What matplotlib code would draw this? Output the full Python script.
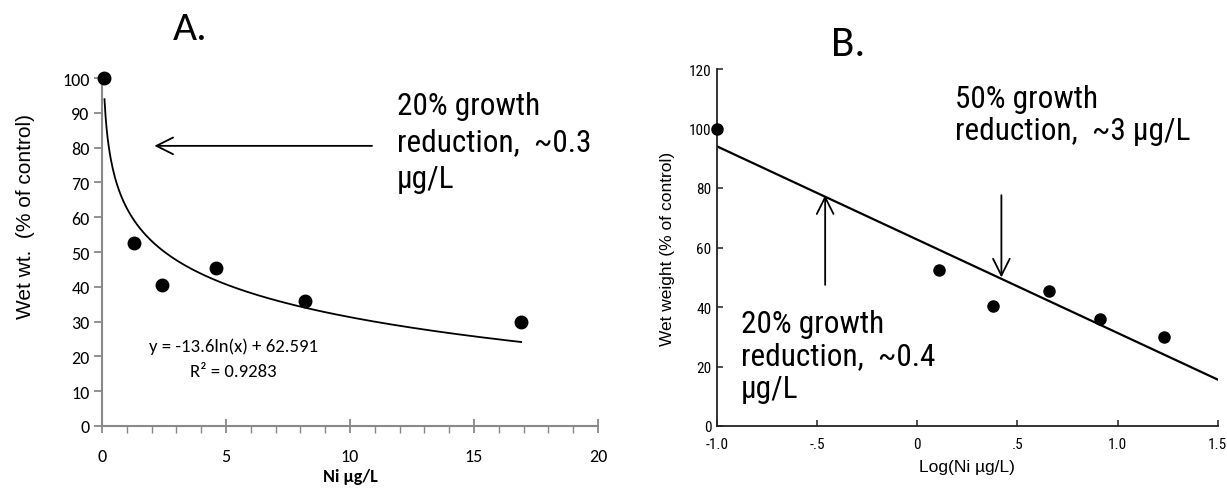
import numpy as np
import matplotlib
matplotlib.use("Agg")
import matplotlib.pyplot as plt
from matplotlib.ticker import MultipleLocator

NARROW = ["Roboto Condensed", "Archivo Narrow", "Liberation Sans"]
CAL = ["Carlito", "Lato", "DejaVu Sans"]
ARIAL = ["Liberation Sans", "DejaVu Sans"]

# ---- data ----
ni_conc = [0.1, 1.3, 2.4, 4.6, 8.2, 16.9]          # Ni ug/L
wet_wt = [100, 52.5, 40.5, 45.3, 35.8, 29.8]       # % of control
log_ni = [-1.0, 0.11, 0.38, 0.66, 0.91, 1.23]      # log10(Ni ug/L)
fit_a, fit_b = -13.6, 62.591                        # trendline y = a ln(x) + b
b_line_x = [-1.0, 1.5]
b_line_y = [94.0, 15.6]
a_xticks = [0, 5, 10, 15, 20]
a_yticks = list(range(0, 101, 10))
b_xticks = [-1.0, -0.5, 0, 0.5, 1.0, 1.5]
b_xticklabels = ["-1.0", "-.5", "0", ".5", "1.0", "1.5"]
b_yticks = list(range(0, 121, 20))

W, H = 1227, 489
fig = plt.figure(figsize=(W / 100, H / 100), dpi=100)

# ---------------- Panel A ----------------
axA = fig.add_axes([102 / W, 62 / H, 496 / W, 348 / H])
grey = "#898989"
xs = np.linspace(min(ni_conc), max(ni_conc), 400)
axA.plot(xs, fit_a * np.log(xs) + fit_b, color="black", lw=1.3)
axA.plot(ni_conc, wet_wt, "o", color="black", ms=9, clip_on=False, zorder=5)
axA.set_xlim(0, 20)
axA.set_ylim(0, 100)
for s in ["top", "right"]:
    axA.spines[s].set_visible(False)
for s in ["left", "bottom"]:
    axA.spines[s].set_color(grey)
    axA.spines[s].set_linewidth(1.5)
axA.set_xticks(a_xticks)
axA.set_yticks(a_yticks)
axA.xaxis.set_minor_locator(MultipleLocator(1))
axA.tick_params(axis="x", which="major", direction="inout", length=10, width=1.3, color=grey,
                labelsize=13, pad=11)
axA.tick_params(axis="x", which="minor", direction="out", length=5, width=1.0, color=grey)
axA.tick_params(axis="y", which="major", direction="out", length=6, width=1.3, color=grey,
                labelsize=13, pad=3)
for lab in axA.get_xticklabels() + axA.get_yticklabels():
    lab.set_fontfamily(CAL)
axA.set_xlabel("Ni µg/L", fontfamily=CAL, fontweight="bold", fontsize=13, labelpad=3)
axA.set_ylabel("Wet wt.  (% of control)", fontfamily=ARIAL, fontsize=15)
axA.yaxis.set_label_coords(-0.135, 0.606)
axA.text(5.3, 23, "y = -13.6ln(x) + 62.591", fontfamily=CAL, fontsize=13.5,
         ha="center", va="center")
axA.text(5.3, 15.8, "R² = 0.9283", fontfamily=CAL, fontsize=13.5, ha="center", va="center")
axA.annotate("", xy=(2.0, 80.5), xytext=(11.0, 80.5),
             arrowprops=dict(arrowstyle="->,head_length=1.2,head_width=0.6", lw=1.3, color="black"))
axA.text(11.9, 81.6, "20% growth\nreduction,  ~0.3\nµg/L", fontfamily=NARROW, fontsize=22.5,
         ha="left", va="center", linespacing=1.33)
fig.text(190 / W, 1 - 29 / H, "A.", fontfamily=CAL, fontsize=30, ha="center", va="center")

# ---------------- Panel B ----------------
axB = fig.add_axes([717 / W, 62 / H, 500.7 / W, 357 / H])
axB.plot(b_line_x, b_line_y, color="black", lw=1.6)
axB.plot(log_ni, wet_wt, "o", color="black", ms=8, clip_on=False, zorder=5)
axB.set_xlim(-1.0, 1.5)
axB.set_ylim(0, 120)
for s in ["top", "right"]:
    axB.spines[s].set_visible(False)
for s in ["left", "bottom"]:
    axB.spines[s].set_color("#222222")
    axB.spines[s].set_linewidth(1.3)
axB.set_xticks(b_xticks)
axB.set_xticklabels(b_xticklabels)
axB.set_yticks(b_yticks)
axB.tick_params(axis="both", direction="in", length=4, width=1.1, labelsize=11, color="#222222")
axB.tick_params(axis="x", pad=8)
axB.tick_params(axis="y", pad=4)
for lab in axB.get_xticklabels() + axB.get_yticklabels():
    lab.set_fontfamily(NARROW)
axB.set_xlabel("Log(Ni µg/L)", fontfamily=ARIAL, fontsize=12.5, labelpad=6)
axB.set_ylabel("Wet weight (% of control)", fontfamily=ARIAL, fontsize=12.5, labelpad=10)
axB.annotate("", xy=(-0.46, 78.5), xytext=(-0.46, 46.5),
             arrowprops=dict(arrowstyle="->,head_length=1.2,head_width=0.6", lw=1.3, color="black"))
axB.annotate("", xy=(0.42, 49.0), xytext=(0.42, 78.5),
             arrowprops=dict(arrowstyle="->,head_length=1.2,head_width=0.6", lw=1.3, color="black"))
axB.text(0.19, 104.7, "50% growth\nreduction,  ~3 µg/L", fontfamily=NARROW, fontsize=22.5,
         ha="left", va="center", linespacing=1.1)
axB.text(-0.88, 23.5, "20% growth\nreduction,  ~0.4\nµg/L", fontfamily=NARROW, fontsize=22.5,
         ha="left", va="center", linespacing=1.15)
fig.text(848 / W, 1 - 45 / H, "B.", fontfamily=CAL, fontsize=31, ha="center", va="center")

fig.savefig("out.png", dpi=100)
